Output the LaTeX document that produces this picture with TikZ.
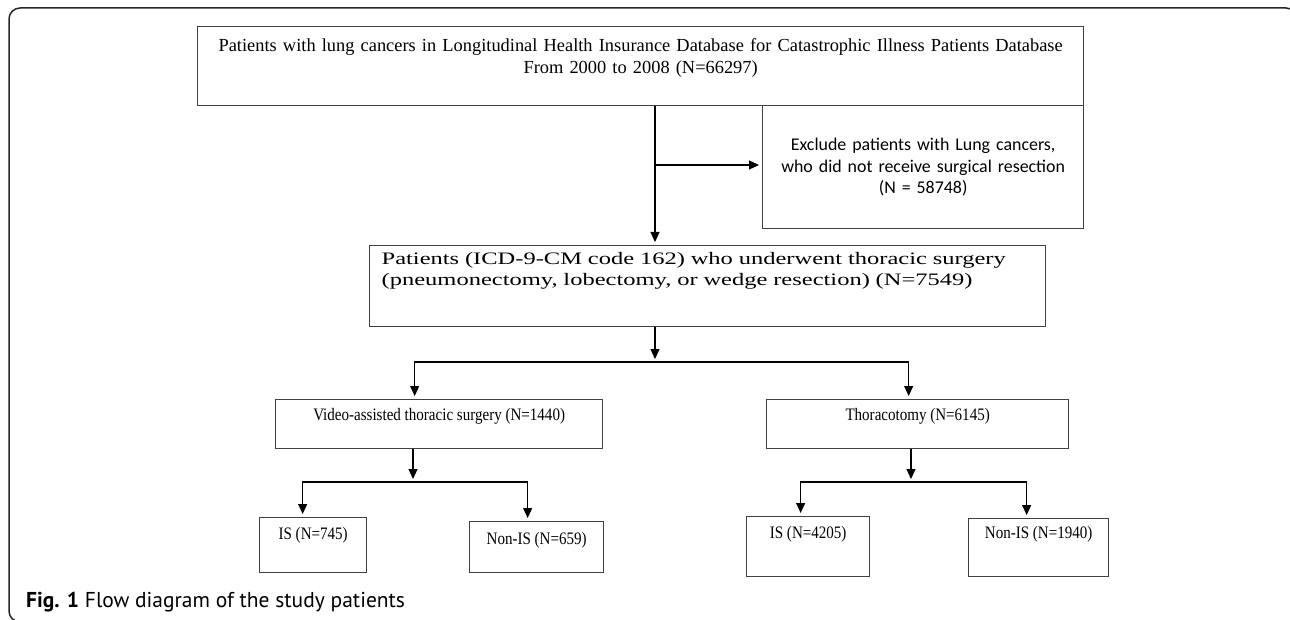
\documentclass[tikz,border=0pt]{standalone}
\usepackage{fontspec}
\setmainfont{Liberation Serif}
\newfontfamily\boxwide{Liberation Serif}[FakeStretch=1.40]
\newfontfamily\boxnarrow{Liberation Serif}[FakeStretch=0.86]
\newfontfamily\exclfont{Carlito}
\newfontfamily\capfont{PT Sans}
\usetikzlibrary{arrows.meta,positioning}
\tikzset{
  flowbox/.style={
    rectangle,
    draw=black!75,
    line width=1.3pt,
    inner sep=0pt,
    align=center,
    anchor=north west
  },
  leafbox/.style={
    flowbox,
    font=\boxnarrow\fontsize{17.5}{21}\selectfont
  },
  flowarrow/.style={
    -{Triangle[length=10pt,width=9pt]},
    line width=1.1pt,
    shorten >=3pt,
    draw=black
  }
}

\begin{document}
\begin{tikzpicture}[x=1pt,y=-1pt]
\useasboundingbox (0,0) rectangle (1290,620);
\clip (0,0) rectangle (1290,620);
% frame round the figure
\draw[line width=1.5pt, draw=black!85, rounded corners=11pt]
  (1297,300) -- (1297,8) -- (9,8) -- (9,622) -- (300,622);

\node[flowbox, text width=886pt, text height=25pt, text depth=54pt,
  font=\fontsize{18.4}{22}\selectfont] (cohort) at (197,26)
  {Patients with lung cancers in Longitudinal Health Insurance Database for Catastrophic Illness Patients Database\\From 2000 to 2008 (N=66297)};
\node[flowbox, text width=321pt, minimum height=123pt,
  font=\exclfont\fontsize{17.9}{21.5}\selectfont] (exclude) at (762,105)
  {Exclude patients with Lung cancers,\\who did not receive surgical resection\\(N = 58748)};
\node[flowbox, align=left, text width=652pt, inner xsep=12pt, text height=19pt, text depth=62pt,
  font=\boxwide\fontsize{17.5}{21}\selectfont] (surgery) at (369,245)
  {Patients (ICD-9-CM code 162) who underwent thoracic surgery\\(pneumonectomy, lobectomy, or wedge resection) (N=7549)};

\node[leafbox, minimum width=327pt, text height=21pt, text depth=28pt] (vats) at (275,399) {Video-assisted thoracic surgery (N=1440)};
\node[leafbox, minimum width=302pt, text height=21pt, text depth=28pt] (thor) at (766,399) {Thoracotomy (N=6145)};

\node[leafbox, minimum width=107pt, text height=22pt, text depth=33pt] (isvats) at (259,517) {IS (N=745)};
\node[leafbox, minimum width=134pt, text height=23pt, text depth=28pt] (nonvats) at (469,521) {Non-IS (N=659)};
\node[leafbox, minimum width=123pt, text height=22pt, text depth=38pt] (isthor) at (746,516) {IS (N=4205)};
\node[leafbox, minimum width=140pt, text height=20pt, text depth=38pt] (nonthor) at (968,518) {Non-IS (N=1940)};

\node[anchor=west, inner sep=0pt, font=\capfont\fontsize{21.5}{25}\selectfont] (caption) at (26,602)
  {\textbf{Fig. 1} Flow diagram of the study patients};

\coordinate (trunk) at (655,165);
\coordinate (fork) at (655,362);
\coordinate (vfork) at (413,482);
\coordinate (tfork) at (911,482);

\draw[flowarrow] (trunk |- cohort.south) -- (trunk |- surgery.north);
\draw[flowarrow] (trunk) -- (trunk -| exclude.west);
\draw[flowarrow, shorten >=0pt] (fork |- surgery.south) -- ([yshift=3pt]fork);
\draw[flowarrow] (fork) -| ([xshift=-24.5pt]vats.north);
\draw[flowarrow] (fork) -| ([xshift=-9pt]thor.north);

\draw[flowarrow, shorten >=0pt] (vfork |- vats.south) -- ([yshift=3pt]vfork);
\draw[flowarrow] (vfork) -| ([xshift=-10.5pt]isvats.north);
\draw[flowarrow] (vfork) -| ([xshift=-9pt]nonvats.north);

\draw[flowarrow, shorten >=0pt] (tfork |- thor.south) -- ([yshift=3pt]tfork);
\draw[flowarrow] (tfork) -| ([xshift=-7.5pt]isthor.north);
\draw[flowarrow] (tfork) -| ([xshift=-12pt]nonthor.north);
\end{tikzpicture}
\end{document}
